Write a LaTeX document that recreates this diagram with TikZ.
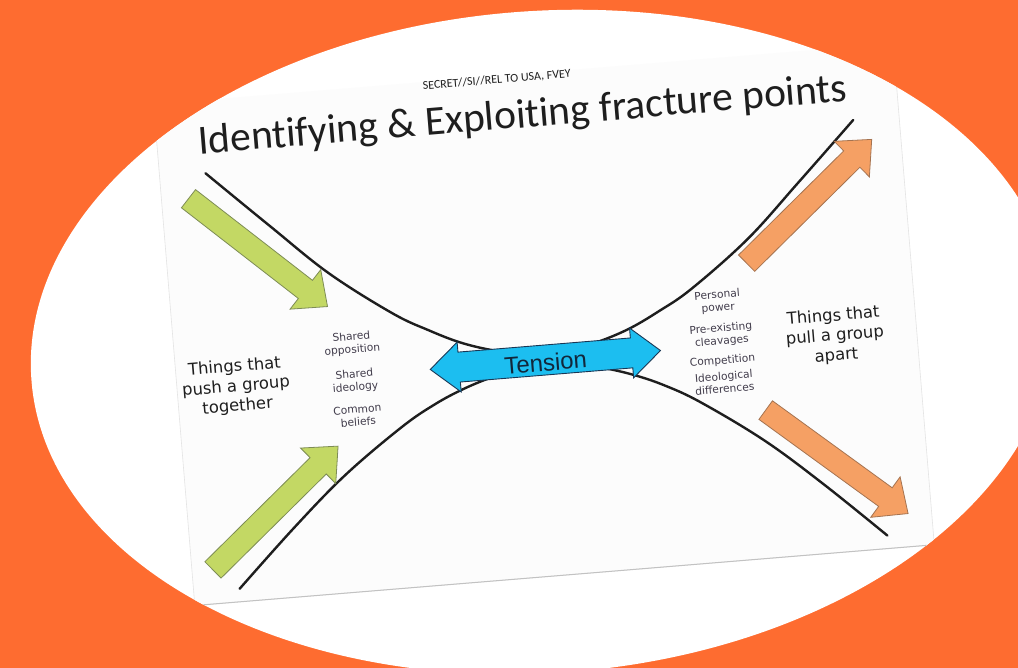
\documentclass[tikz,border=0pt]{standalone}
\usepackage{fontspec}
\setmainfont{DejaVu Sans}
\newfontfamily\carlito[Ligatures=NoCommon]{Carlito}
\newfontfamily\libsans{Liberation Sans}
\definecolor{bgorange}{RGB}{254,108,48}
\definecolor{slidebg}{RGB}{252,252,252}
\definecolor{slideedge}{RGB}{228,228,228}
\definecolor{greenfill}{RGB}{195,216,100}
\definecolor{greenline}{RGB}{125,140,85}
\definecolor{orangefill}{RGB}{245,160,100}
\definecolor{orangeline}{RGB}{165,115,80}
\definecolor{bluefill}{RGB}{28,190,240}
\definecolor{blueline}{RGB}{25,55,85}
\definecolor{inkdark}{RGB}{30,30,30}
\definecolor{smallink}{RGB}{65,60,75}
\newcommand\blockarrow[3]{%
  \draw[#1, shift={#2}, rotate=#3] (0,-11.5) -- (148,-11.5) -- (148,-25) -- (176,0)
    -- (148,25) -- (148,11.5) -- (0,11.5) -- cycle;}
\begin{document}
\begin{tikzpicture}[x=1pt,y=1pt,
  curve/.style={line width=2.4pt, draw=inkdark, line cap=round},
  pusharrow/.style={fill=greenfill, draw=greenline, line width=0.8pt},
  pullarrow/.style={fill=orangefill, draw=orangeline, line width=0.8pt},
  tensionarrow/.style={fill=bluefill, draw=blueline, line width=0.9pt},
  titletext/.style={font=\carlito\fontsize{41.5}{48}\selectfont, text=inkdark, inner sep=0},
  classtext/.style={font=\carlito\fontsize{12}{14}\selectfont, text=inkdark, inner sep=0},
  biglabel/.style={font=\fontsize{16.4}{19.8}\selectfont, text=inkdark, align=center, inner sep=0},
  smalllabel/.style={font=\fontsize{10.7}{12.8}\selectfont, text=smallink, align=center, inner sep=0},
  tensiontext/.style={font=\libsans\fontsize{24}{28}\selectfont, text=blueline!70!black, inner sep=0},
]
\useasboundingbox (0,0) rectangle (1018,668);
\fill[bgorange] (0,0) rectangle (1018,668);
\begin{scope}
  \clip[rotate around={4.2:(543,326)}] (543,326) ellipse [x radius=513pt, y radius=331pt];
  \fill[white] (0,0) rectangle (1018,668);
  \begin{scope}[shift={(544,343)}, rotate=4.7, transform shape]
    % slide
    \fill[slidebg] (-371,-251) rectangle (371,252);
    \draw[slideedge, line width=0.6pt] (-371,252) -- (-371,-251) -- (371,-251) -- (371,252);
    \draw[slideedge!85!black, line width=1pt] (-371,-251) -- (371,-251);
    % curves
    \draw[curve] plot[smooth, tension=0.6] coordinates {(-325,179) (-265,121) (-210,69) (-150,24) (-115,4) (-85,-10.5) (-55,-20.5) (-30,-25.5) (0,-27) (30,-25.5) (55,-20.5) (85,-10.5) (115,4) (150,24) (210,69) (265,121) (325,179)};
    \draw[curve] plot[smooth, tension=0.6] coordinates {(-325,-238) (-265,-181) (-210,-133) (-150,-90) (-115,-70) (-85,-57) (-55,-47.5) (-30,-42.5) (0,-41) (30,-42.5) (55,-47.5) (85,-57) (115,-70) (150,-90) (210,-133) (265,-181) (325,-238)};
    % push / pull arrows
    \blockarrow{pusharrow}{(-344,155)}{-42.5}
    \blockarrow{pusharrow}{(-350,-217)}{40}
    \blockarrow{pullarrow}{(207,45)}{40}
    \blockarrow{pullarrow}{(214,-103)}{-40.7}
    % tension arrow
    \draw[tensionarrow] (-117,-35) -- (-88,-10) -- (-88,-20) -- (85,-20) -- (85,-10)
      -- (114,-35) -- (85,-60) -- (85,-50) -- (-88,-50) -- (-88,-60) -- cycle;
    \node[tensiontext] (tension) at (-1.5,-37.5) {Tension};
    % texts
    \node[classtext] (classif) at (-27,248) {SECRET//SI//REL TO USA, FVEY};
    \node[titletext, anchor=base] (title) at (-4,198.5) {Identifying \& Exploiting fracture points};
    \node[biglabel] (push) at (-312,-36.5) {Things that\\push a group\\together};
    \node[biglabel] (pull) at (289,-35) {Things that\\pull a group\\apart};
    \node[smalllabel] (s1) at (-193,-3) {Shared\\opposition};
    \node[smalllabel] (s2) at (-193,-40.5) {Shared\\ideology};
    \node[smalllabel] (s3) at (-193,-75) {Common\\beliefs};
    \node[smalllabel] (r1) at (175,9) {Personal\\power};
    \node[smalllabel] (r2) at (176,-24.5) {Pre-existing\\cleavages};
    \node[smalllabel] (r3) at (175,-50.5) {Competition};
    \node[smalllabel] (r4) at (175,-72) {Ideological\\differences};
  \end{scope}
\end{scope}
\end{tikzpicture}
\end{document}
